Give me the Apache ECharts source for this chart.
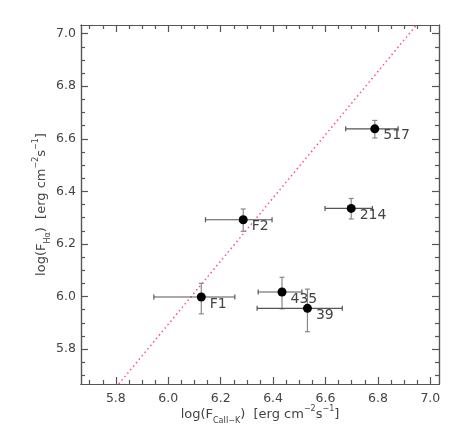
<!DOCTYPE html>
<html>
<head>
<meta charset="utf-8">
<script src="https://cdn.jsdelivr.net/npm/echarts@6/dist/echarts.min.js"></script>
<style>
    html, body { margin: 0; padding: 0; background: #fff; }
    #chart { width: 463px; height: 436px; }
</style>
</head>
<body>
<div id="chart"></div>
<script>
    // star names and their log fluxes (CaII-K on x, Halpha on y)
    var names = ['F1', 'F2', '435', '39', '214', '517'];
    var caFlux = [6.126, 6.286, 6.434, 6.531, 6.698, 6.788];
    var caLow = [5.945, 6.142, 6.343, 6.339, 6.598, 6.677];
    var caHigh = [6.254, 6.396, 6.510, 6.664, 6.779, 6.877];
    var haFlux = [5.998, 6.292, 6.017, 5.955, 6.335, 6.638];
    var haLow = [5.934, 6.248, 5.953, 5.866, 6.295, 6.603];
    var haHigh = [6.050, 6.333, 6.073, 6.028, 6.373, 6.670];

    // dotted relation drawn across the panel
    var fitLine = [[5.811, 5.667], [6.947, 7.033]];

    var axisMin = 5.667;
    var axisMax = 7.033;
    var majorTicks = [5.8, 6.0, 6.2, 6.4, 6.6, 6.8, 7.0];
    var minorTicks = [5.7, 5.75, 5.85, 5.9, 5.95, 6.05, 6.1, 6.15, 6.25, 6.3, 6.35,
        6.45, 6.5, 6.55, 6.65, 6.7, 6.75, 6.85, 6.9, 6.95];

    var points = names.map(function (n, i) {
        return {name: n, value: [caFlux[i], haFlux[i]]};
    });
    var errors = names.map(function (n, i) {
        return [caFlux[i], haFlux[i], caLow[i], caHigh[i], haLow[i], haHigh[i]];
    });

    var axisColor = '#555';
    var textColor = '#444';
    var font = 'DejaVu Sans';

    var titleRich = {
        n: {fontSize: 13, lineHeight: 20, verticalAlign: 'middle', color: textColor, fontFamily: font},
        sub: {fontSize: 8, lineHeight: 10, verticalAlign: 'bottom', color: textColor, fontFamily: font},
        sup: {fontSize: 8, lineHeight: 10, verticalAlign: 'top', color: textColor, fontFamily: font}
    };

    function makeAxis(position, ticks, len, withLabels) {
        return {
            type: 'value',
            position: position,
            min: axisMin,
            max: axisMax,
            splitLine: {show: false},
            axisLine: {show: true, onZero: false, lineStyle: {color: axisColor, width: 1.2}},
            axisTick: {show: true, inside: true, length: len, customValues: ticks,
                lineStyle: {color: axisColor, width: 1.2}},
            axisLabel: {show: withLabels, customValues: ticks, color: textColor,
                fontSize: 12.5, fontFamily: font, margin: 8,
                formatter: function (v) { return v.toFixed(1); }}
        };
    }

    var xMain = makeAxis('bottom', majorTicks, 7, true);
    xMain.name = '{n|log(F}{sub|CaII−K}{n|)  [erg cm}{sup|−2}{n|s}{sup|−1}{n|]}';
    xMain.nameLocation = 'middle';
    xMain.nameGap = 21;
    xMain.nameMoveOverlap = false;
    xMain.nameTextStyle = {rich: titleRich};

    var yMain = makeAxis('left', majorTicks, 7, true);
    yMain.axisLabel.margin = 5;
    yMain.name = '{n|log(F}{sub|Hα}{n|)  [erg cm}{sup|−2}{n|s}{sup|−1}{n|]}';
    yMain.nameLocation = 'middle';
    yMain.nameRotate = 90;
    yMain.nameGap = 29;
    yMain.nameMoveOverlap = false;
    yMain.nameTextStyle = {rich: titleRich};

    var chart = echarts.init(document.getElementById('chart'));
    var option = {
        animation: false,
        grid: {left: 81, right: 24, top: 25, bottom: 52},
        xAxis: [
            xMain,
            makeAxis('bottom', minorTicks, 4, false),
            makeAxis('top', majorTicks, 7, false),
            makeAxis('top', minorTicks, 4, false)
        ],
        yAxis: [
            yMain,
            makeAxis('left', minorTicks, 4, false),
            makeAxis('right', majorTicks, 7, false),
            makeAxis('right', minorTicks, 4, false)
        ],
        series: [
            {
                type: 'line',
                data: fitLine,
                showSymbol: false,
                clip: true,
                silent: true,
                lineStyle: {color: '#ff4f85', width: 1.5, type: [1.5, 3]},
                z: 1
            },
            {
                type: 'custom',
                data: errors,
                clip: true,
                z: 2,
                renderItem: function (params, api) {
                    var c = api.coord([api.value(0), api.value(1)]);
                    var xl = api.coord([api.value(2), api.value(1)])[0];
                    var xh = api.coord([api.value(3), api.value(1)])[0];
                    var yl = api.coord([api.value(0), api.value(4)])[1];
                    var yh = api.coord([api.value(0), api.value(5)])[1];
                    var cap = 2.5;
                    var hStyle = {stroke: '#555', lineWidth: 1.2};
                    var vStyle = {stroke: '#888', lineWidth: 1.2};
                    return {
                        type: 'group',
                        children: [
                            {type: 'line', shape: {x1: xl, y1: c[1], x2: xh, y2: c[1]}, style: hStyle},
                            {type: 'line', shape: {x1: xl, y1: c[1] - cap, x2: xl, y2: c[1] + cap}, style: hStyle},
                            {type: 'line', shape: {x1: xh, y1: c[1] - cap, x2: xh, y2: c[1] + cap}, style: hStyle},
                            {type: 'line', shape: {x1: c[0], y1: yl, x2: c[0], y2: yh}, style: vStyle},
                            {type: 'line', shape: {x1: c[0] - cap, y1: yl, x2: c[0] + cap, y2: yl}, style: vStyle},
                            {type: 'line', shape: {x1: c[0] - cap, y1: yh, x2: c[0] + cap, y2: yh}, style: vStyle}
                        ]
                    };
                }
            },
            {
                type: 'scatter',
                data: points,
                symbol: 'circle',
                symbolSize: 9,
                itemStyle: {color: '#000', opacity: 1},
                z: 3,
                label: {
                    show: true,
                    position: 'right',
                    distance: 4,
                    offset: [0, 7],
                    formatter: '{b}',
                    color: textColor,
                    fontSize: 14,
                    fontFamily: font
                }
            }
        ]
    };
    chart.setOption(option);
    window.addEventListener('resize', function () {
        chart.resize();
    });
</script>
</body>
</html>
